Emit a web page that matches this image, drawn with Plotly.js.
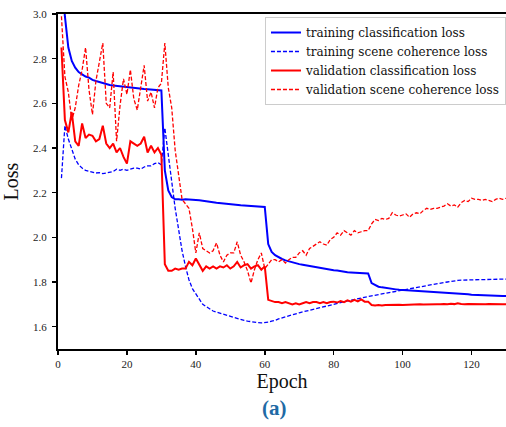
<!DOCTYPE html>
<html>
<head>
<meta charset="utf-8">
<script src="https://cdn.plot.ly/plotly-3.0.1.min.js"></script>
<style>
html,body{margin:0;padding:0;background:#fff;}
#chart{width:506px;height:427px;}
</style>
</head>
<body>
<div id="chart"></div>
<script>
// Epoch numbers 1..130
const epochs = Array.from({length:130}, (_, i) => i + 1);

// training classification loss
const trainCls = [
3.20,2.99,2.85,2.79,2.76,2.74,2.73,2.72,2.715,2.705,
2.70,2.695,2.69,2.685,2.682,2.68,2.678,2.675,2.673,2.671,
2.669,2.667,2.666,2.665,2.664,2.663,2.662,2.661,2.660,2.658,
2.30,2.21,2.18,2.17,2.17,2.168,2.17,2.17,2.168,2.167,
2.166,2.163,2.161,2.159,2.157,2.155,2.153,2.151,2.149,2.147,
2.146,2.145,2.144,2.143,2.142,2.141,2.140,2.139,2.138,2.136,
1.97,1.935,1.92,1.91,1.903,1.897,1.892,1.888,1.884,1.88,
1.877,1.874,1.871,1.868,1.865,1.862,1.86,1.857,1.855,1.853,
1.851,1.848,1.846,1.844,1.843,1.842,1.841,1.84,1.839,1.838,
1.795,1.785,1.779,1.776,1.773,1.771,1.769,1.767,1.765,1.764,
1.763,1.762,1.761,1.760,1.759,1.758,1.757,1.756,1.755,1.755,
1.754,1.753,1.752,1.752,1.751,1.750,1.750,1.749,1.745,1.743,
1.742,1.741,1.741,1.740,1.739,1.739,1.738,1.738,1.737,1.737
];

// training scene coherence loss
const trainScene = [
2.265,2.50,2.44,2.39,2.35,2.325,2.31,2.30,2.295,2.29,
2.288,2.29,2.285,2.288,2.29,2.295,2.305,2.30,2.305,2.30,
2.305,2.31,2.31,2.305,2.315,2.32,2.32,2.33,2.335,2.325,
2.49,2.36,2.25,2.13,2.03,1.94,1.87,1.81,1.77,1.745,
1.72,1.70,1.69,1.68,1.67,1.665,1.66,1.655,1.65,1.645,
1.64,1.635,1.632,1.628,1.625,1.622,1.62,1.618,1.617,1.617,
1.62,1.625,1.628,1.635,1.64,1.645,1.648,1.652,1.658,1.662,
1.666,1.67,1.674,1.678,1.682,1.686,1.69,1.694,1.698,1.702,
1.705,1.709,1.712,1.715,1.718,1.722,1.725,1.728,1.732,1.735,
1.738,1.741,1.744,1.747,1.75,1.753,1.756,1.759,1.762,1.765,
1.768,1.771,1.774,1.777,1.779,1.782,1.785,1.788,1.79,1.793,
1.795,1.798,1.80,1.803,1.805,1.807,1.808,1.809,1.81,1.81,
1.81,1.811,1.811,1.811,1.812,1.812,1.812,1.812,1.813,1.813
];

// validation classification loss
const valCls = [
2.85,2.525,2.47,2.56,2.43,2.41,2.51,2.445,2.46,2.455,
2.43,2.44,2.50,2.42,2.40,2.42,2.38,2.40,2.36,2.33,
2.43,2.42,2.41,2.42,2.45,2.38,2.41,2.38,2.40,2.37,
1.88,1.85,1.85,1.86,1.855,1.86,1.86,1.89,1.875,1.905,
1.875,1.85,1.87,1.86,1.87,1.86,1.87,1.865,1.875,1.86,
1.87,1.89,1.865,1.875,1.88,1.86,1.87,1.875,1.855,1.87,
1.72,1.715,1.71,1.71,1.705,1.71,1.705,1.70,1.705,1.70,
1.705,1.71,1.705,1.71,1.71,1.705,1.71,1.705,1.71,1.712,
1.708,1.715,1.71,1.718,1.712,1.72,1.713,1.722,1.712,1.712,
1.697,1.695,1.697,1.695,1.697,1.698,1.697,1.698,1.698,1.697,
1.698,1.699,1.698,1.699,1.70,1.699,1.70,1.70,1.701,1.70,
1.70,1.702,1.70,1.703,1.701,1.705,1.702,1.70,1.702,1.701,
1.70,1.701,1.70,1.70,1.701,1.70,1.70,1.701,1.70,1.70
];

// validation scene coherence loss
const valScene = [
2.99,2.72,2.65,2.525,2.58,2.68,2.75,2.85,2.66,2.55,
2.70,2.79,2.87,2.60,2.58,2.74,2.43,2.59,2.71,2.64,
2.75,2.62,2.57,2.67,2.77,2.61,2.65,2.58,2.67,2.69,
2.87,2.67,2.58,2.39,2.27,2.17,2.15,2.13,2.04,1.93,
2.02,1.95,1.94,1.93,1.94,1.975,1.92,1.89,1.92,1.93,
1.93,1.98,1.92,1.89,1.85,1.795,1.855,1.90,1.93,1.86,
1.88,1.90,1.90,1.89,1.90,1.885,1.90,1.91,1.91,1.93,
1.94,1.92,1.95,1.96,1.97,1.98,1.97,1.965,1.99,2.00,
2.02,2.01,2.03,2.02,2.01,2.03,2.02,2.025,2.03,2.03,
2.06,2.08,2.075,2.085,2.08,2.085,2.11,2.10,2.095,2.10,
2.105,2.09,2.105,2.11,2.105,2.12,2.13,2.125,2.13,2.13,
2.135,2.14,2.15,2.14,2.145,2.135,2.155,2.165,2.16,2.175,
2.17,2.17,2.165,2.17,2.165,2.16,2.17,2.175,2.17,2.175
];

const seriesNames = [
  'training classification loss',
  'training scene coherence loss',
  'validation classification loss',
  'validation scene coherence loss'
];

const xTicks = [0,20,40,60,80,100,120];
const yTicks = [1.6,1.8,2.0,2.2,2.4,2.6,2.8,3.0];

const serif = '"Liberation Serif", "DejaVu Serif", serif';
const legendFont = '"DejaVu Serif", serif';

const traces = [
  {x: epochs, y: trainCls, name: seriesNames[0], mode: 'lines',
   line: {color: '#0000ff', width: 2}},
  {x: epochs, y: trainScene, name: seriesNames[1], mode: 'lines',
   line: {color: '#0000ff', width: 1.3, dash: '4px,2px'}},
  {x: epochs, y: valCls, name: seriesNames[2], mode: 'lines',
   line: {color: '#ff0000', width: 2}},
  {x: epochs, y: valScene, name: seriesNames[3], mode: 'lines',
   line: {color: '#ff0000', width: 1.3, dash: '4px,2px'}}
];

const layout = {
  width: 506, height: 427,
  margin: {l: 58, r: 0, t: 14, b: 78},
  paper_bgcolor: '#fff', plot_bgcolor: '#fff',
  font: {family: serif, color: '#000'},
  showlegend: true,
  legend: {
    x: 0.462, y: 0.991, xanchor: 'left', yanchor: 'top',
    bgcolor: 'rgba(255,255,255,0.85)', bordercolor: '#cccccc', borderwidth: 1,
    font: {family: legendFont, size: 12, color: '#111'},
    tracegroupgap: 0, itemwidth: 30
  },
  xaxis: {
    range: [0, 130], tickvals: xTicks, ticktext: xTicks.map(String),
    showgrid: false, zeroline: false,
    showline: true, linecolor: '#000', linewidth: 2, mirror: true,
    ticks: 'outside', ticklen: 4, tickwidth: 1.5, tickcolor: '#000',
    tickfont: {family: serif, size: 11, color: '#222'},
    title: {text: 'Epoch', font: {family: serif, size: 20, color: '#111'}, standoff: 5}
  },
  yaxis: {
    range: [1.5, 3.0], tickvals: yTicks, ticktext: yTicks.map(v => v.toFixed(1)),
    showgrid: false, zeroline: false,
    showline: true, linecolor: '#000', linewidth: 2, mirror: true,
    ticks: 'outside', ticklen: 4, tickwidth: 1.5, tickcolor: '#000',
    ticklabelstandoff: 3,
    tickfont: {family: serif, size: 11, color: '#222'},
    title: {text: 'Loss', font: {family: serif, size: 20, color: '#111'}, standoff: 10}
  },
  annotations: [{
    text: '<b>(a)</b>', xref: 'paper', yref: 'paper', x: 0.484, y: -0.175,
    xanchor: 'center', yanchor: 'middle', showarrow: false,
    font: {family: serif, size: 21, color: '#1f6aa5'}
  }]
};

Plotly.newPlot('chart', traces, layout, {displayModeBar: false, staticPlot: true});
</script>
</body>
</html>
